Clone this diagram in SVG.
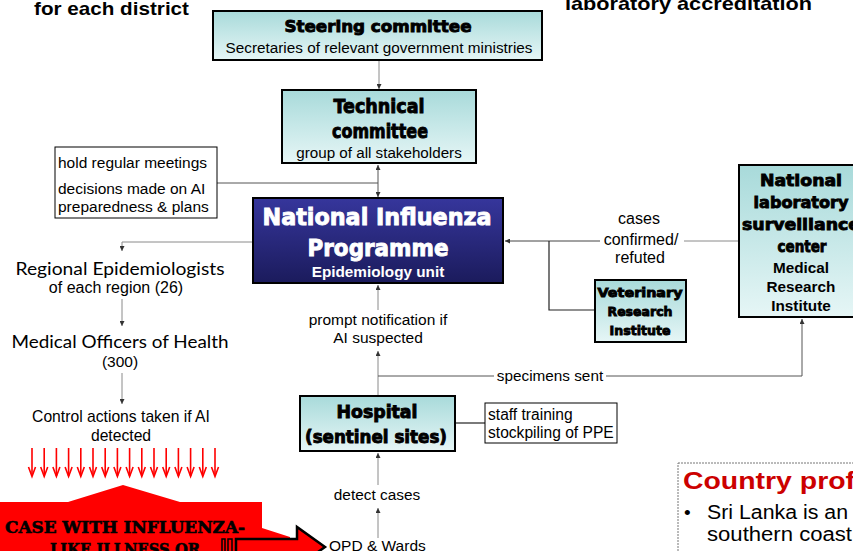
<svg xmlns="http://www.w3.org/2000/svg" width="853" height="551" viewBox="0 0 853 551">
<defs>
<linearGradient id="cyan" x1="0" y1="0" x2="0" y2="1">
<stop offset="0" stop-color="#a8dada"/>
<stop offset="1" stop-color="#e6f6f6"/>
</linearGradient>
<linearGradient id="navy" x1="0" y1="0" x2="0" y2="1">
<stop offset="0" stop-color="#36369c"/>
<stop offset="1" stop-color="#1b1b5c"/>
</linearGradient>
<marker id="ah" viewBox="0 0 6 6" refX="6" refY="3" markerWidth="5" markerHeight="5" markerUnits="userSpaceOnUse" orient="auto-start-reverse">
<path d="M0,0 L6,3 L0,6 z" fill="#333"/>
</marker>
</defs>
<style>
.box{fill:url(#cyan);stroke:#000;stroke-width:2}
.note{fill:#fff;stroke:#000;stroke-width:1}
.disp{font-family:"DejaVu Sans",Lato,sans-serif;font-weight:bold;fill:#000;stroke:#000;stroke-width:0.9;text-anchor:middle}
.ar{font-family:"Liberation Sans",Arial,sans-serif;fill:#000}
.c{text-anchor:middle}
.gs{font-family:Lato,"Open Sans",sans-serif;fill:#000;text-anchor:middle}
.ln{stroke:#8a8a8a;stroke-width:1;fill:none}
.dk{stroke:#222;stroke-width:1.2;fill:none}
.rd{stroke:#ff0000;stroke-width:1.6;fill:none}
</style>
<rect width="853" height="551" fill="#fff"/>

<text class="ar" x="34" y="15" font-size="19" font-weight="bold" textLength="155" lengthAdjust="spacingAndGlyphs">for each district</text>
<text class="ar" x="565" y="10" font-size="19" font-weight="bold" textLength="247" lengthAdjust="spacingAndGlyphs">laboratory accreditation</text>

<g id="connectors">
<path class="ln" d="M379,60 V89" marker-end="url(#ah)"/>
<path class="ln" d="M378,165 V197" marker-start="url(#ah)" marker-end="url(#ah)" style="stroke:#555"/>
<path class="ln" d="M217,183 H378" style="stroke:#555"/>
<path class="ln" d="M253,242 H122 V251" marker-end="url(#ah)"/>
<path class="ln" d="M122,299 V326" marker-end="url(#ah)"/>
<path class="ln" d="M122,373 V404" marker-end="url(#ah)"/>
<path class="ln" d="M600,241 H505" marker-end="url(#ah)" style="stroke:#444"/>
<path class="ln" d="M684,241 H739"/>
<path class="dk" d="M549,241 V310 H595"/>
<path class="ln" d="M378,310 V285" marker-end="url(#ah)"/>
<path class="ln" d="M378,396 V351" marker-end="url(#ah)"/>
<path class="ln" d="M378,376 H494" style="stroke:#555"/>
<path class="ln" d="M606,376 H802 V319" marker-end="url(#ah)" style="stroke:#555"/>
<path class="dk" d="M455,423 H485"/>
<path class="ln" d="M378,485 V453" marker-end="url(#ah)"/>
<path class="ln" d="M378,538 V508" marker-end="url(#ah)"/>
</g>

<g id="steering">
<rect class="box" x="213" y="11" width="329" height="49"/>
<text class="disp" x="378" y="32" font-size="16" textLength="187" lengthAdjust="spacingAndGlyphs">Steering committee</text>
<text class="ar c" x="379" y="53" font-size="15.3">Secretaries of relevant government ministries</text>
</g>

<g id="technical">
<rect class="box" x="282" y="90" width="194" height="73"/>
<text class="disp" x="379" y="113" font-size="19" textLength="91" lengthAdjust="spacingAndGlyphs">Technical</text>
<text class="disp" x="380" y="138" font-size="19" textLength="96" lengthAdjust="spacingAndGlyphs">committee</text>
<text class="ar c" x="379" y="158" font-size="15.2">group of all stakeholders</text>
</g>

<g id="meetings">
<rect class="note" x="55" y="147" width="162" height="71"/>
<text class="ar" x="58" y="168" font-size="15.5">hold regular meetings</text>
<text class="ar" x="58" y="194" font-size="15.5">decisions made on AI</text>
<text class="ar" x="58" y="212" font-size="15.5">preparedness &amp; plans</text>
</g>

<g id="nip">
<rect x="253" y="198" width="250" height="85" fill="url(#navy)" stroke="#000" stroke-width="2"/>
<text class="disp" x="377" y="225" font-size="23" style="fill:#fff;stroke:#fff" textLength="229" lengthAdjust="spacingAndGlyphs">National Influenza</text>
<text class="disp" x="378" y="256" font-size="23" style="fill:#fff;stroke:#fff" textLength="141" lengthAdjust="spacingAndGlyphs">Programme</text>
<text class="ar c" x="378" y="277" font-size="15.3" font-weight="bold" style="fill:#fff">Epidemiology unit</text>
</g>

<g id="regional">
<text class="gs" x="120" y="275" font-size="17" textLength="209" lengthAdjust="spacingAndGlyphs">Regional Epidemiologists</text>
<text class="ar c" x="116" y="293" font-size="16">of each region (26)</text>
</g>

<g id="moh">
<text class="gs" x="120" y="348" font-size="17" textLength="217" lengthAdjust="spacingAndGlyphs">Medical Officers of Health</text>
<text class="ar c" x="120" y="367" font-size="15.5">(300)</text>
</g>

<g id="control">
<text class="ar c" x="121" y="422" font-size="15.7">Control actions taken if AI</text>
<text class="ar c" x="121" y="441" font-size="15.7">detected</text>
</g>

<g id="red-arrows">
<path class="rd" d="M32,448 V476 M44.2,448 V476 M56.4,448 V476 M68.6,448 V476 M80.8,448 V476 M93,448 V476 M105.2,448 V476 M117.4,448 V476 M129.6,448 V476 M141.8,448 V476 M154,448 V476 M166.2,448 V476 M178.4,448 V476 M190.6,448 V476 M202.8,448 V476 M215,448 V476"/>
<path class="rd" d="M28.5,467 L32,476.5 L35.5,467 M40.7,467 L44.2,476.5 L47.7,467 M52.9,467 L56.4,476.5 L59.9,467 M65.1,467 L68.6,476.5 L72.1,467 M77.3,467 L80.8,476.5 L84.3,467 M89.5,467 L93,476.5 L96.5,467 M101.7,467 L105.2,476.5 L108.7,467 M113.9,467 L117.4,476.5 L120.9,467 M126.1,467 L129.6,476.5 L133.1,467 M138.3,467 L141.8,476.5 L145.3,467 M150.5,467 L154,476.5 L157.5,467 M162.7,467 L166.2,476.5 L169.7,467 M174.9,467 L178.4,476.5 L181.9,467 M187.1,467 L190.6,476.5 L194.1,467 M199.3,467 L202.8,476.5 L206.3,467 M211.5,467 L215,476.5 L218.5,467"/>
</g>

<g id="case">
<polygon points="0,502 68,502 123,485 180,502 262,502 262,528 290,537 290,551 0,551" fill="#ff0000"/>
<rect x="222" y="539" width="3" height="14" fill="#ff0000" stroke="#000" stroke-width="1.5"/>
<rect x="228" y="539" width="4" height="14" fill="#ff0000" stroke="#000" stroke-width="1.5"/>
<polygon points="236,539 297,539 297,527 325,547 297,567 297,555 236,555" fill="#ff0000" stroke="#000" stroke-width="2.5" stroke-linejoin="miter"/>
<text x="125" y="533" font-family="'DejaVu Serif','Liberation Serif',serif" font-weight="bold" font-size="16" text-anchor="middle" stroke="#000" stroke-width="0.6" textLength="240" lengthAdjust="spacingAndGlyphs">CASE WITH INFLUENZA-</text>
<text x="125" y="555" font-family="'DejaVu Serif','Liberation Serif',serif" font-weight="bold" font-size="16" text-anchor="middle" stroke="#000" stroke-width="0.6" textLength="150" lengthAdjust="spacingAndGlyphs">LIKE ILLNESS OR</text>
</g>

<g id="opd">
<text class="ar" x="329" y="551" font-size="15.5">OPD &amp; Wards</text>
</g>

<g id="detect">
<text class="ar c" x="377" y="500" font-size="15.4">detect cases</text>
</g>

<g id="hospital">
<rect class="box" x="300" y="396" width="155" height="55"/>
<text class="disp" x="377" y="418" font-size="17" textLength="81" lengthAdjust="spacingAndGlyphs">Hospital</text>
<text class="disp" x="376" y="443" font-size="17" textLength="142" lengthAdjust="spacingAndGlyphs">(sentinel sites)</text>
</g>

<g id="staff">
<rect class="note" x="485" y="403" width="132" height="40"/>
<text class="ar" x="488" y="420" font-size="15.6">staff training</text>
<text class="ar" x="488" y="438" font-size="15.6">stockpiling of PPE</text>
</g>

<g id="prompt">
<text class="ar c" x="378" y="325" font-size="15.5">prompt notification if</text>
<text class="ar c" x="378" y="343" font-size="15.5">AI suspected</text>
</g>

<g id="specimens">
<text class="ar c" x="550" y="381" font-size="15.3">specimens sent</text>
</g>

<g id="cases-label">
<text class="ar c" x="639" y="224" font-size="16">cases</text>
<text class="ar c" x="641" y="245" font-size="16">confirmed/</text>
<text class="ar c" x="640" y="263" font-size="16">refuted</text>
</g>

<g id="national-lab">
<rect class="box" x="739" y="165" width="124" height="152"/>
<text class="disp" x="801" y="186" font-size="16" textLength="82" lengthAdjust="spacingAndGlyphs">National</text>
<text class="disp" x="801" y="208" font-size="16" textLength="95" lengthAdjust="spacingAndGlyphs">laboratory</text>
<text class="disp" x="801" y="230" font-size="16" textLength="118" lengthAdjust="spacingAndGlyphs">surveillance</text>
<text class="disp" x="802" y="252" font-size="16" textLength="49" lengthAdjust="spacingAndGlyphs">center</text>
<text class="ar c" x="801" y="273" font-size="15.3" font-weight="bold">Medical</text>
<text class="ar c" x="801" y="292" font-size="15.3" font-weight="bold">Research</text>
<text class="ar c" x="801" y="311" font-size="15.3" font-weight="bold">Institute</text>
</g>

<g id="vet">
<rect class="box" x="595" y="280" width="91" height="62"/>
<text class="disp" x="640" y="297" font-size="13" textLength="85" lengthAdjust="spacingAndGlyphs">Veterinary</text>
<text class="disp" x="640" y="316" font-size="13" textLength="65" lengthAdjust="spacingAndGlyphs">Research</text>
<text class="disp" x="640" y="335" font-size="13" textLength="61" lengthAdjust="spacingAndGlyphs">Institute</text>
</g>

<g id="country-profile">
<rect x="678" y="463" width="190" height="100" fill="#fff" stroke="#777" stroke-width="1" stroke-dasharray="2,1"/>
<text class="ar" x="683" y="489" font-size="24" font-weight="bold" style="fill:#cc0000" textLength="172" lengthAdjust="spacingAndGlyphs">Country prof</text>
<text class="ar" x="684" y="519" font-size="19">•</text>
<text class="ar" x="707" y="519" font-size="20" textLength="141" lengthAdjust="spacingAndGlyphs">Sri Lanka is an</text>
<text class="ar" x="707" y="541" font-size="20" textLength="145" lengthAdjust="spacingAndGlyphs">southern coast</text>
</g>
</svg>
